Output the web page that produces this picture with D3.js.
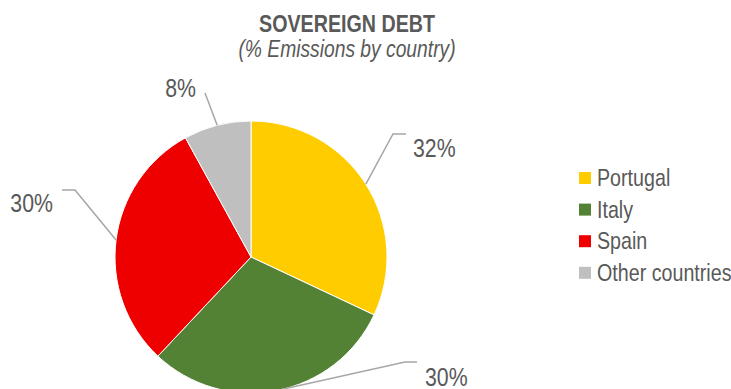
<!DOCTYPE html>
<html>
<head>
<meta charset="utf-8">
<script src="https://cdn.jsdelivr.net/npm/d3@7"></script>
<style>
  body { margin: 0; background: #fff; }
  svg { display: block; font-family: "Liberation Sans", Arial, sans-serif; }
</style>
</head>
<body>
<script>
// chart data
var countries = ['Portugal', 'Italy', 'Spain', 'Other countries']
var shares = [32, 30, 30, 8]
var shareLabels = ['32%', '30%', '30%', '8%']
var colors = ['#FFCC00', '#548235', '#EE0000', '#BFBFBF']

// size of the svg
var width = 731
var height = 389
var cx = 251
var cy = 257
var radius = 136
var narrow = 0.82   // squeeze text to look like a narrow font

// label layout relative to pie centre: text x, text y, anchor, elbow x, elbow y, tail x
var labelSpots = [
    [162, -100, 'start', 142, -123, 155],
    [174, 129, 'start', 154, 105, 166],
    [-198, -45, 'end', -176, -67, -189],
    [-55, -160, 'end', -46, -164, -46]
]

var svg = d3.select('body').append('svg')
    .attr('width', width)
    .attr('height', height)

// helper for squeezed text
const narrowText = (parent, x, y, str) => {
    return parent.append('text')
        .attr('transform', 'translate(' + x + ',' + y + ') scale(' + narrow + ',1)')
        .attr('fill', '#595959')
        .text(str)
}

// title
narrowText(svg, 347, 32, 'SOVEREIGN DEBT')
    .attr('text-anchor', 'middle')
    .attr('font-size', 24).attr('font-weight', 'bold')

narrowText(svg, 347, 57, '(% Emissions by country)')
    .attr('text-anchor', 'middle')
    .attr('font-size', 23.5).attr('font-style', 'italic')

var pie = d3.pie().sort(null).value(function (d) { return d })
var arc = d3.arc().innerRadius(0).outerRadius(radius)
var slices = pie(shares)

var g = svg.append('g').attr('transform', 'translate(' + cx + ',' + cy + ')')

g.selectAll('path.slice')
    .data(slices)
    .enter()
    .append('path')
    .attr('class', 'slice')
    .attr('d', arc)
    .attr('fill', function (d, i) { return colors[i] })
    .attr('stroke', '#fff')
    .attr('stroke-width', 1)

// leader lines: arc midpoint -> elbow -> short horizontal tail
var onArc = d3.arc().innerRadius(radius).outerRadius(radius)

g.selectAll('polyline.leader')
    .data(slices)
    .enter()
    .append('polyline')
    .attr('class', 'leader')
    .attr('fill', 'none')
    .attr('stroke', '#A6A6A6')
    .attr('stroke-width', 1.5)
    .attr('points', function (d, i) {
        var p = onArc.centroid(d)
        var s = labelSpots[i]
        return [p, [s[3], s[4]], [s[5], s[4]]].join(' ')
    })

slices.forEach(function (d, i) {
    var s = labelSpots[i]
    narrowText(g, s[0], s[1], shareLabels[i])
        .attr('text-anchor', s[2])
        .attr('font-size', 26)
})

// legend
var legend = svg.append('g').attr('transform', 'translate(579,172)')

var rows = legend.selectAll('g')
    .data(countries)
    .enter()
    .append('g')
    .attr('transform', function (d, i) { return 'translate(0,' + (i * 31.6) + ')' })

rows.append('rect')
    .attr('width', 12).attr('height', 12)
    .attr('fill', function (d, i) { return colors[i] })

rows.each(function (d) {
    narrowText(d3.select(this), 18, 14, d)
        .attr('font-size', 24)
})
</script>
</body>
</html>
